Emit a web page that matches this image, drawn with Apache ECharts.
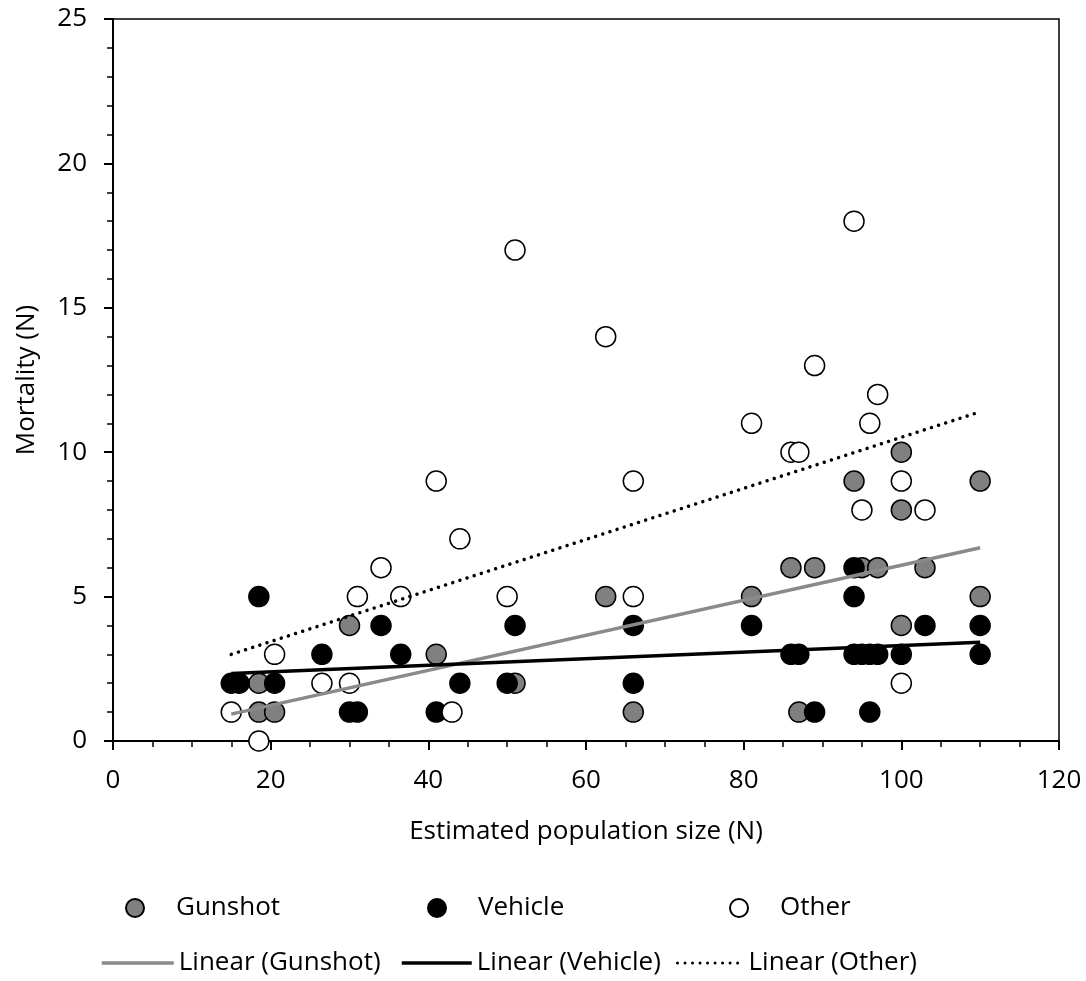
<!DOCTYPE html>
<html><head><meta charset="utf-8">
<script src="https://cdn.jsdelivr.net/npm/echarts@6/dist/echarts.min.js"></script>
<style>html,body{margin:0;padding:0;background:#fff}#c{width:1086px;height:981px}</style>
</head><body><div id="c"></div>
<script>
// [population size, mortality]
const gunshot = [[18.5,2],[18.5,1],[20.5,1],[30,4],[41,3],[51,2],[62.5,5],[66,1],[81,5],[86,6],[89,6],[87,1],[94,9],[95,6],[97,6],[103,6],[100,10],[100,8],[100,4],[110,9],[110,5]];
const vehicle = [[15,2],[16,2],[18.5,5],[20.5,2],[26.5,3],[30,1],[31,1],[34,4],[36.5,3],[41,1],[44,2],[50,2],[51,4],[66,4],[66,2],[81,4],[86,3],[87,3],[89,1],[94,6],[94,5],[94,3],[95,3],[96,3],[97,3],[96,1],[100,3],[103,4],[110,4],[110,3]];
const other = [[15,1],[18.5,0],[20.5,3],[26.5,2],[30,2],[31,5],[34,6],[36.5,5],[41,9],[43,1],[44,7],[50,5],[51,17],[62.5,14],[66,9],[66,5],[81,11],[86,10],[87,10],[89,13],[94,18],[95,8],[96,11],[97,12],[100,9],[100,2],[103,8]];
// trend line end points
const trendGunshot = [[15,0.93],[110,6.69]];
const trendVehicle = [[15,2.34],[110,3.42]];
const trendOther = [[15,3.0],[110,11.4]];
const seriesNames = ['Gunshot','Vehicle','Other'];
const trendNames = ['Linear (Gunshot)','Linear (Vehicle)','Linear (Other)'];

const FONT = 'Open Sans';
const FS = 26;
const chart = echarts.init(document.getElementById('c'), null, {renderer:'canvas'});
const txt = {color:'#000', fontSize:FS, fontFamily:FONT};
const markerBase = {borderColor:'#000', borderWidth:1.5, opacity:1};
function symLegend(name, left, top){
  return {data:[name], left:left, top:top, itemWidth:18, itemHeight:18, icon:'circle', selectedMode:false, padding:0,
    textStyle:Object.assign({padding:[0,0,0,27]}, txt)};
}
function lineLegend(name, left, top, w, lw){
  return {data:[name], left:left, top:top, itemWidth:w, itemHeight:18, selectedMode:false, padding:0,
    itemStyle:{opacity:0}, lineStyle:{width:lw}, textStyle:Object.assign({}, txt)};
}
chart.setOption({
  animation:false,
  backgroundColor:'#fff',
  grid:{left:113, right:27, top:19, bottom:240, show:true, borderColor:'#000', borderWidth:1.5, containLabel:false},
  legend:[
    symLegend(seriesNames[0], 125, 895),
    symLegend(seriesNames[1], 427, 895),
    symLegend(seriesNames[2], 729, 895),
    lineLegend(trendNames[0], 100, 950, 72, 3.5),
    lineLegend(trendNames[1], 400, 950, 70, 3.5),
    lineLegend(trendNames[2], 676, 950, 66, 3)
  ],
  xAxis:{type:'value', min:0, max:120, interval:20,
    axisLine:{lineStyle:{color:'#000', width:2}},
    axisTick:{show:true, inside:false, length:9, lineStyle:{color:'#000', width:2}},
    minorTick:{show:true, splitNumber:4, length:6, lineStyle:{color:'#000', width:1.5}},
    splitLine:{show:false},
    axisLabel:Object.assign({margin:27}, txt),
    name:'Estimated population size (N)', nameLocation:'middle', nameGap:78,
    nameTextStyle:Object.assign({}, txt)},
  yAxis:{type:'value', min:0, max:25, interval:5,
    axisLine:{lineStyle:{color:'#000', width:2}},
    axisTick:{show:true, inside:false, length:9, lineStyle:{color:'#000', width:2}},
    minorTick:{show:true, splitNumber:5, length:6, lineStyle:{color:'#000', width:1.5}},
    splitLine:{show:false},
    axisLabel:Object.assign({margin:26}, txt),
    name:'Mortality (N)', nameLocation:'middle', nameGap:73,
    nameTextStyle:Object.assign({}, txt)},
  series:[
    {name:seriesNames[0], type:'scatter', data:gunshot, symbol:'circle', symbolSize:20, z:2,
      itemStyle:Object.assign({color:'#808080'}, markerBase)},
    {name:seriesNames[1], type:'scatter', data:vehicle, symbol:'circle', symbolSize:20, z:3,
      itemStyle:Object.assign({color:'#000'}, markerBase)},
    {name:seriesNames[2], type:'scatter', data:other, symbol:'circle', symbolSize:20, z:4,
      itemStyle:Object.assign({color:'#fff'}, markerBase)},
    {name:trendNames[0], type:'line', data:trendGunshot, symbol:'none', z:5,
      lineStyle:{color:'#8a8a8a', width:3.5}, itemStyle:{color:'#8a8a8a'}},
    {name:trendNames[1], type:'line', data:trendVehicle, symbol:'none', z:5,
      lineStyle:{color:'#000', width:3.5}, itemStyle:{color:'#000'}},
    {name:trendNames[2], type:'line', data:trendOther, symbol:'none', z:5,
      lineStyle:{color:'#000', width:3.5, type:[0.01,7.5], cap:'round'}, itemStyle:{color:'#000'}}
  ]
});
</script></body></html>
